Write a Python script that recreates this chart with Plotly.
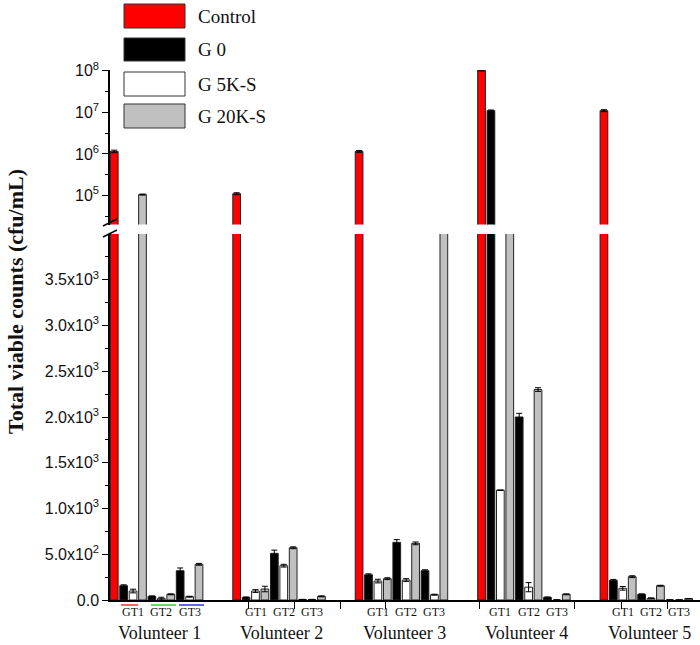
import plotly.graph_objects as go

# ---------------- data ----------------
volunteers = ["Volunteer 1", "Volunteer 2", "Volunteer 3", "Volunteer 4", "Volunteer 5"]
groups = ["GT1", "GT2", "GT3"]
series_names = ["Control", "G 0", "G 5K-S", "G 20K-S"]

control = [1.15e6, 1.1e5, 1.15e6, 1.05e8, 1.1e7]
control_err = [8e4, 6e3, 6e4, 6e6, 6e5]

# per volunteer: [GT1, GT2, GT3]
g0 = [[156, 40, 320], [29, 510, 5], [276, 630, 320], [1.1e7, 2000, 29], [215, 62, 0]]
g0_err = [[10, 5, 30], [4, 35, 2], [10, 30, 10], [4e5, 40, 4], [10, 5, 0]]
g5k = [[98, 15, 36], [98, 375, 5], [207, 218, 58], [1200, 140, 0], [128, 18, 0]]
g5k_err = [[20, 15, 5], [15, 15, 2], [20, 15, 5], [0, 50, 0], [20, 5, 0]]
g20k = [[1.05e5, 62, 390], [120, 571, 40], [233, 619, 1.0e4], [1.0e4, 2300, 62], [255, 156, 15]]
g20k_err = [[3e3, 5, 10], [30, 10, 5], [10, 15, 0], [0, 20, 5], [10, 5, 0]]

colors = ["#ff0000", "#000000", "#ffffff", "#c0c0c0"]

lin_ticks = [0, 500, 1000, 1500, 2000, 2500, 3000, 3500]
lin_labels = ["0.0", "5.0x10<sup>2</sup>", "1.0x10<sup>3</sup>", "1.5x10<sup>3</sup>",
              "2.0x10<sup>3</sup>", "2.5x10<sup>3</sup>", "3.0x10<sup>3</sup>", "3.5x10<sup>3</sup>"]
log_ticks = [1e5, 1e6, 1e7, 1e8]
log_labels = ["10<sup>5</sup>", "10<sup>6</sup>", "10<sup>7</sup>", "10<sup>8</sup>"]

# ---------------- layout helpers ----------------
STEP = 13  # slots per volunteer block
W, H = 700, 645
ML, MR, MT, MB = 110, 0, 70, 45
PW, PH = W - ML - MR, H - MT - MB


def px(xp):
    return (xp - ML) / PW


def py(yp):
    return (H - MB - yp) / PH


ctrl_x = [STEP * i for i in range(len(volunteers))]


def xs_for(k):
    return [STEP * i + 1 + 3 * j + k for i in range(len(volunteers)) for j in range(len(groups))]


def flat(a):
    return [v for row in a for v in row]


series = [
    (ctrl_x, control, control_err),
    (xs_for(0), flat(g0), flat(g0_err)),
    (xs_for(1), flat(g5k), flat(g5k_err)),
    (xs_for(2), flat(g20k), flat(g20k_err)),
]

fig = go.Figure()
for (xx, yy, ee), name, col in zip(series, series_names, colors):
    for ya in ["y", "y2"]:
        fig.add_trace(go.Bar(
            x=xx, y=yy, name=name, width=0.82, yaxis=ya, xaxis="x",
            marker=dict(color=col, line=dict(color="#222222", width=1)),
            error_y=dict(type="data", array=ee, color="#000000", thickness=1, width=3),
            showlegend=False, hoverinfo="skip",
        ))

lin_top = py(234)
log_bot = py(224.5)

fig.update_layout(
    width=W, height=H,
    margin=dict(l=ML, r=MR, t=MT, b=MB),
    paper_bgcolor="white", plot_bgcolor="white",
    barmode="overlay",
    font=dict(family="Liberation Sans", size=15, color="#111111"),
    xaxis=dict(
        range=[-0.45, 62.2], showgrid=False, zeroline=False,
        showline=True, linecolor="#000000", linewidth=1.5,
        tickmode="array", tickvals=[14.3, 19.1, 24, 28.8, 38.8, 48.9, 53.9, 58.8],
        ticks="outside", ticklen=7, tickcolor="#000000", showticklabels=False,
        anchor="y",
    ),
    yaxis=dict(
        domain=[0, lin_top], range=[0, 4000], showgrid=False, zeroline=False,
        showline=True, linecolor="#000000", linewidth=1.5,
        tickmode="array", tickvals=lin_ticks, ticktext=lin_labels,
        ticks="outside", ticklen=6, tickcolor="#000000",
        minor=dict(tickvals=[250, 750, 1250, 1750, 2250, 2750, 3250, 3750],
                   ticks="outside", ticklen=3, tickcolor="#000000"),
        tickfont=dict(family="Liberation Sans", size=16),
        anchor="x",
    ),
    yaxis2=dict(
        domain=[log_bot, 1], type="log", range=[4.30, 8.02], showgrid=False, zeroline=False,
        showline=True, linecolor="#000000", linewidth=1.5,
        tickmode="array", tickvals=log_ticks, ticktext=log_labels,
        ticks="outside", ticklen=6, tickcolor="#000000",
        minor=dict(tickvals=[10 ** 4.5, 10 ** 5.5, 10 ** 6.5, 10 ** 7.5],
                   ticks="outside", ticklen=3, tickcolor="#000000"),
        tickfont=dict(family="Liberation Sans", size=16),
        anchor="x",
    ),
)

shapes = []
annotations = []

# legend (drawn manually with large swatches)
leg_rows = [(4, 28), (38, 61), (72, 96), (104, 128)]
for (y0, y1), name, col in zip(leg_rows, series_names, colors):
    shapes.append(dict(type="rect", xref="paper", yref="paper",
                       x0=px(124), x1=px(185), y0=py(y1), y1=py(y0),
                       fillcolor=col, line=dict(color="#333333", width=1)))
    annotations.append(dict(xref="paper", yref="paper", x=px(196), y=py((y0 + y1) / 2),
                            text=name, showarrow=False, xanchor="left", yanchor="middle",
                            font=dict(family="Liberation Serif", size=19, color="#111111")))

# axis break marks
for yb in [226, 237]:
    shapes.append(dict(type="line", xref="paper", yref="paper",
                       x0=px(103), x1=px(117), y0=py(yb), y1=py(yb - 7),
                       line=dict(color="#000000", width=1.5)))

# coloured underlines under volunteer 1 groups
for (xa, xb), col in zip([(121, 138), (151, 176), (179, 204)], ["#ff3030", "#30d030", "#3030ff"]):
    shapes.append(dict(type="line", xref="paper", yref="paper",
                       x0=px(xa), x1=px(xb), y0=py(605), y1=py(605),
                       line=dict(color=col, width=1.5)))

# group and volunteer labels
for i, v in enumerate(volunteers):
    for j, g in enumerate(groups):
        annotations.append(dict(xref="x", yref="paper", x=STEP * i + 2 + 3 * j, y=py(612),
                                text=g, showarrow=False, yanchor="middle",
                                font=dict(family="Liberation Serif", size=12, color="#111111")))
    annotations.append(dict(xref="x", yref="paper", x=STEP * i + 4.8, y=py(633),
                            text=v, showarrow=False, yanchor="middle",
                            font=dict(family="Liberation Serif", size=18, color="#111111")))

# y-axis title
annotations.append(dict(xref="paper", yref="paper", x=px(15), y=py(302),
                        text="<b>Total viable counts (cfu/mL)</b>", textangle=-90,
                        showarrow=False, xanchor="center", yanchor="middle",
                        font=dict(family="Liberation Serif", size=22, color="#111111")))

fig.update_layout(shapes=shapes, annotations=annotations)
fig.write_html("out.html", config={"displayModeBar": False},
               post_script="document.body.style.margin='0';document.body.style.padding='0';")
